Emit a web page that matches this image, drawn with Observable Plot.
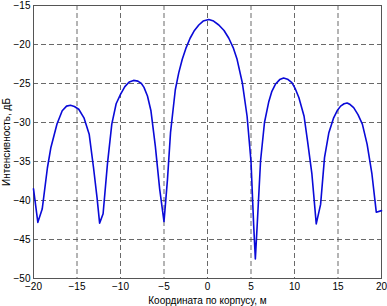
<!DOCTYPE html>
<html>
<head>
<meta charset="utf-8">
<script src="https://cdn.jsdelivr.net/npm/d3@7"></script>
<script src="https://cdn.jsdelivr.net/npm/@observablehq/plot@0.6"></script>
<style>
  html, body { margin: 0; padding: 0; background: #fff; }
  svg { font-family: Arial, "Liberation Sans", sans-serif; }
</style>
</head>
<body>
<div id="chart"></div>
<script>
const xs = [-20, -19.5, -19.0, -18.4, -18.0, -17.3, -16.7, -16.2, -15.75, -15.3, -14.8, -14.2, -13.6, -13.1, -12.7, -12.4, -12.0, -11.5, -11.0, -10.5, -10.0, -9.5, -9.0, -8.5, -8.0, -7.6, -7.3, -6.9, -6.5, -6.0, -5.5, -5.0, -4.6, -4.25, -3.7, -3.3, -2.9, -2.45, -2.0, -1.5, -1.0, -0.5, 0.15, 0.7, 1.3, 1.9, 2.45, 2.95, 3.4, 4.0, 4.55, 5.0, 5.3, 5.5, 5.7, 6.1, 6.55, 7.05, 7.4, 7.8, 8.3, 8.75, 9.2, 9.7, 10.1, 10.5, 11.1, 11.5, 12.0, 12.5, 13.0, 13.45, 13.95, 14.5, 14.9, 15.3, 15.7, 16.05, 16.4, 16.8, 17.3, 17.8, 18.35, 18.9, 19.4, 20];
const ys = [-38.5, -42.8, -41.1, -35.8, -33.2, -30.2, -28.5, -27.9, -27.8, -27.95, -28.3, -29.4, -31.5, -35.8, -39.6, -42.9, -41.7, -35.3, -30.2, -27.6, -26.4, -25.4, -24.8, -24.6, -24.7, -25.0, -25.5, -26.6, -28.5, -33.0, -38.5, -42.7, -37.3, -31.3, -25.8, -23.6, -21.9, -20.4, -19.2, -18.2, -17.5, -17.0, -16.8, -17.0, -17.5, -18.2, -19.2, -20.4, -21.9, -24.9, -29.2, -35.0, -43.0, -47.5, -43.4, -34.9, -30.0, -27.3, -26.0, -25.1, -24.5, -24.3, -24.45, -24.9, -25.7, -26.8, -29.2, -32.4, -36.6, -43.0, -40.5, -34.5, -31.3, -29.4, -28.5, -27.9, -27.6, -27.5, -27.7, -28.1, -29.0, -30.2, -32.8, -36.6, -41.5, -41.3];
const xTicks = [-20, -15, -10, -5, 0, 5, 10, 15, 20];
const yTicks = [-50, -45, -40, -35, -30, -25, -20, -15];
const xLabel = "Координата по корпусу, м";
const yLabel = "Интенсивность, дБ";

const data = xs.map((x, i) => ({x, y: ys[i]}));

const chart = Plot.plot({
  width: 387,
  height: 306,
  marginLeft: 33,
  marginRight: 6,
  marginTop: 5,
  marginBottom: 28,
  style: {fontSize: "10px", fontFamily: "Arial, 'Liberation Sans', sans-serif", color: "#000", background: "#fff"},
  x: {domain: [-20, 20]},
  y: {domain: [-50, -15]},
  marks: [
    Plot.gridX(xTicks, {stroke: "#444", strokeOpacity: 0.8, strokeDasharray: "5,3"}),
    Plot.gridY(yTicks, {stroke: "#444", strokeOpacity: 0.8, strokeDasharray: "5,3"}),
    Plot.frame({stroke: "#555"}),
    Plot.axisX(xTicks, {tickSize: 0, tickPadding: 4, label: xLabel, labelAnchor: "center", labelArrow: "none", labelOffset: 25}),
    Plot.axisY(yTicks, {tickSize: 0, tickPadding: 3, label: yLabel, labelAnchor: "center", labelArrow: "none", labelOffset: 31}),
    Plot.line(data, {x: "x", y: "y", stroke: "#0a0ad8", strokeWidth: 1.6})
  ]
});
document.getElementById("chart").appendChild(chart);
</script>
</body>
</html>
